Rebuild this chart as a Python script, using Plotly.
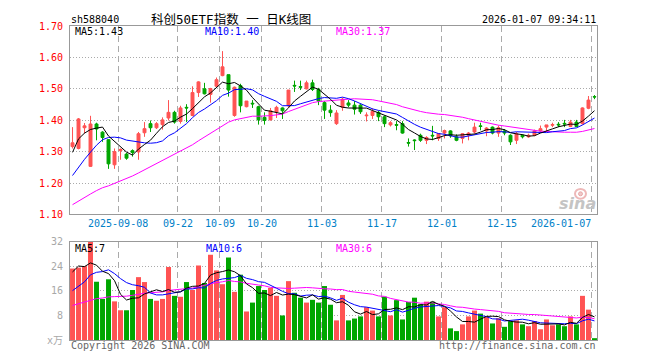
import numpy as np
import plotly.graph_objects as go

# ---------------- data ----------------
opens = [1.316,1.310,1.376,1.253,1.388,1.362,1.338,1.258,1.303,1.292,
         1.303,1.299,1.360,1.389,1.376,1.386,1.407,1.425,1.396,1.441,
         1.415,1.488,1.500,1.482,1.508,1.542,1.545,1.415,1.510,1.443,
         1.454,1.443,1.409,1.401,1.426,1.439,1.446,1.511,1.507,1.500,
         1.519,1.498,1.456,1.432,1.389,1.441,1.455,1.448,1.448,1.414,
         1.415,1.425,1.411,1.385,1.386,1.389,1.329,1.337,1.352,1.336,
         1.352,1.342,1.359,1.366,1.347,1.342,1.352,1.3625,1.382,1.366,
         1.378,1.359,1.366,1.352,1.336,1.352,1.347,1.352,1.366,1.378,
         1.384,1.387,1.390,1.380,1.394,1.389,1.438,1.475]
highs = [1.378,1.407,1.391,1.414,1.392,1.365,1.340,1.310,1.310,1.296,
         1.307,1.3625,1.394,1.399,1.394,1.409,1.464,1.430,1.446,1.451,
         1.508,1.524,1.519,1.503,1.536,1.620,1.545,1.507,1.516,1.461,
         1.464,1.446,1.425,1.439,1.446,1.441,1.496,1.526,1.526,1.526,
         1.529,1.503,1.461,1.448,1.432,1.472,1.464,1.461,1.451,1.425,
         1.438,1.430,1.415,1.397,1.397,1.397,1.342,1.339,1.357,1.349,
         1.382,1.359,1.370,1.368,1.355,1.359,1.3625,1.392,1.392,1.378,
         1.380,1.383,1.372,1.355,1.3625,1.355,1.357,1.370,1.383,1.385,
         1.392,1.394,1.401,1.401,1.401,1.441,1.477,1.480]
lows = [1.310,1.307,1.357,1.251,1.336,1.331,1.245,1.245,1.274,1.274,
        1.284,1.274,1.347,1.3625,1.372,1.370,1.399,1.389,1.389,1.394,
        1.4125,1.474,1.482,1.456,1.505,1.540,1.475,1.411,1.425,1.441,
        1.439,1.386,1.386,1.399,1.407,1.404,1.441,1.490,1.496,1.498,
        1.493,1.448,1.404,1.411,1.385,1.430,1.441,1.418,1.420,1.396,
        1.404,1.397,1.378,1.380,1.368,1.357,1.316,1.305,1.331,1.324,
        1.336,1.334,1.342,1.344,1.333,1.326,1.336,1.357,1.368,1.349,
        1.355,1.347,1.352,1.321,1.324,1.342,1.344,1.349,1.3625,1.3625,
        1.378,1.378,1.378,1.378,1.378,1.386,1.435,1.467]
closes = [1.328,1.404,1.382,1.388,1.372,1.345,1.261,1.300,1.307,1.279,
          1.297,1.357,1.373,1.376,1.389,1.401,1.425,1.394,1.439,1.439,
          1.488,1.522,1.484,1.501,1.529,1.570,1.496,1.505,1.446,1.461,
          1.452,1.401,1.399,1.430,1.441,1.430,1.496,1.509,1.505,1.519,
          1.498,1.461,1.432,1.424,1.423,1.467,1.448,1.435,1.427,1.416,
          1.428,1.411,1.389,1.392,1.384,1.359,1.327,1.335,1.336,1.345,
          1.350,1.357,1.367,1.350,1.336,1.357,1.359,1.378,1.380,1.375,
          1.359,1.376,1.359,1.331,1.357,1.347,1.352,1.366,1.373,1.385,
          1.386,1.385,1.388,1.394,1.380,1.439,1.464,1.474]
volumes = [23.3,23.6,24.1,32.0,19.0,13.4,19.8,12.6,9.7,9.7,
           16.3,20.5,18.9,13.4,12.8,13.4,23.8,14.4,14.1,18.9,
           16.3,24.3,18.6,27.8,22.7,18.2,26.9,15.7,21.3,9.3,
           12.2,17.6,16.3,17.0,14.4,8.0,19.2,15.4,13.8,12.2,
           13.1,12.2,17.6,11.5,6.4,14.7,6.4,7.0,7.7,10.7,
           9.6,7.7,14.1,8.0,13.0,6.7,12.4,13.8,11.7,12.5,
           12.5,7.7,10.7,3.8,2.9,5.1,7.7,9.6,8.6,7.5,
           5.4,7.1,4.3,6.1,6.4,5.1,4.5,6.2,3.5,6.7,
           4.8,5.1,4.5,7.7,5.1,14.4,9.9,0.6]
# sessions before the visible window (only feed the moving averages)
pre_closes = [1.04,1.05,1.06,1.05,1.07,1.08,1.07,1.06,1.05,1.06,
              1.07,1.08,1.09,1.10,1.11,1.12,1.12,1.13,1.14,1.14,
              1.14,1.13,1.16,1.15,1.17,1.19,1.29,1.33,1.35]
pre_volumes = [7,8,9,8,7,9,10,8,7,8,
               9,10,9,8,9,10,11,10,9,11,
               9,10,9,11,11,14,25,26,22.7]

tick_idx = [8, 18, 25, 32, 42, 52, 62, 72, 87]
tick_labels = ["2025-09-08", "09-22", "10-09", "10-20", "11-03",
               "11-17", "12-01", "12-15", "2026-01-07"]
price_ticks = [1.10, 1.20, 1.30, 1.40, 1.50, 1.60, 1.70]
vol_ticks = [0, 8, 16, 24, 32]
vol_tick_text = ["x万", "8", "16", "24", "32"]

# ---------------- helpers ----------------
RED = "#ff5353"
GREEN = "#00a600"
MONO = "DejaVu Sans Mono"
OFF = 8                      # page body margin of the html page
FW, FH = 660 - OFF, 360 - OFF
L, R, T, B = 70, 597, 20, 340   # plot box in window pixels


def px(xp):
    return (xp - L) / (R - L)


def py(yp):
    return (B - yp) / (B - T)


def ma(pre, cur, n):
    arr = np.array(pre + cur, dtype=float)
    out = np.convolve(arr, np.ones(n) / n, mode="valid")
    return out[-len(cur):]


n = len(closes)
x = list(range(n))
colors = [RED if c >= o else GREEN for o, c in zip(opens, closes)]

fig = go.Figure()
fig.add_trace(go.Candlestick(
    x=x, open=opens, high=highs, low=lows, close=closes,
    increasing=dict(line=dict(color=RED, width=1), fillcolor=RED),
    decreasing=dict(line=dict(color=GREEN, width=1), fillcolor=GREEN),
    whiskerwidth=0, hoverinfo="skip", xaxis="x", yaxis="y"))

for period, col in [(30, "#ff00ff"), (10, "#0000ff"), (5, "#000000")]:
    fig.add_trace(go.Scatter(x=x, y=ma(pre_closes, closes, period), mode="lines",
                             line=dict(color=col, width=1), hoverinfo="skip",
                             xaxis="x", yaxis="y"))

fig.add_trace(go.Bar(x=x, y=volumes, marker=dict(color=colors, line=dict(width=0)),
                     width=0.83, hoverinfo="skip", xaxis="x2", yaxis="y2"))
for period, col in [(30, "#ff00ff"), (10, "#0000ff"), (5, "#000000")]:
    fig.add_trace(go.Scatter(x=x, y=ma(pre_volumes, volumes, period), mode="lines",
                             line=dict(color=col, width=1), hoverinfo="skip",
                             xaxis="x2", yaxis="y2"))

grid_x = [i - 0.42 for i in tick_idx]
xcommon = dict(range=[-0.42, n - 1 + 0.42], tickvals=grid_x, showticklabels=False,
               showgrid=True, gridcolor="#aaaaaa", griddash="6px,4px", gridwidth=1,
               showline=True, mirror=True, linecolor="#999999", linewidth=1,
               zeroline=False, ticks="", fixedrange=True)

fig.update_layout(
    width=FW, height=FH,
    margin=dict(l=L - OFF, r=660 - R, t=T - OFF, b=360 - B),
    paper_bgcolor="white", plot_bgcolor="white",
    showlegend=False, boxgap=0.3,
    xaxis=dict(**xcommon, anchor="y", domain=[0, 1], rangeslider=dict(visible=False)),
    xaxis2=dict(**xcommon, anchor="y2", domain=[0, 1], matches="x"),
    yaxis=dict(domain=[py(212), 1], range=[1.10, 1.70], tickvals=price_ticks,
               ticktext=[f"{v:.2f}" for v in price_ticks],
               tickfont=dict(family=MONO, size=10, color="#ff0000"),
               showgrid=True, gridcolor="#aaaaaa", griddash="1px,2px",
               showline=True, mirror=True, linecolor="#999999", linewidth=1,
               zeroline=False, ticks="", ticklabelstandoff=4, fixedrange=True),
    yaxis2=dict(domain=[0, py(240)], range=[0, 32], tickvals=vol_ticks,
                ticktext=vol_tick_text,
                tickfont=dict(family=MONO + ", Noto Sans CJK SC", size=10, color="#a8a8a8"),
                showgrid=True, gridcolor="#aaaaaa", griddash="1px,2px",
                showline=True, mirror=True, linecolor="#999999", linewidth=1,
                zeroline=False, ticks="", ticklabelstandoff=4, fixedrange=True),
)

ann = []


def text(t, xp, yp, color="#000", size=10, anchor="left", family=MONO, **kw):
    ann.append(dict(text=t, x=px(xp), y=py(yp), xref="paper", yref="paper",
                    xanchor=anchor, yanchor="middle", showarrow=False,
                    font=dict(family=family, size=size, color=color), **kw))


text("sh588040", 69, 13)
text("科创50ETF指数 一 日K线图", 149, 13, size=12.5, family=MONO + ", Noto Sans CJK SC")
text("2026-01-07 09:34:11", 598, 13, anchor="right")

text("MA5:1.43", 73, 26)
text("MA10:1.40", 203, 26, color="#0000ff")
text("MA30:1.37", 334, 26, color="#ff00ff")

text("MA5:7", 73, 247)
text("MA10:6", 204, 247, color="#0000ff")
text("MA30:6", 334, 247, color="#ff00ff")

text("Copyright 2026 SINA.COM", 69, 346, color="#666666")
text("http://finance.sina.com.cn", 598, 346, color="#666666", anchor="right")
text("<b><i>sina</i></b>", 598, 201, color="#c4c4c4", size=16, anchor="right",
     family="DejaVu Sans")

for gx, lab in zip(grid_x, tick_labels):
    last = lab == tick_labels[-1]
    ann.append(dict(text=lab, x=gx + (0.1 if last else 0), y=py(221.5), xref="x", yref="paper",
                    xanchor="right" if last else "center", yanchor="middle",
                    showarrow=False, font=dict(family=MONO, size=10, color="#0080c8")))

fig.update_layout(annotations=ann)
# faint sina eye logo above the watermark text
fig.add_shape(type="circle", xref="paper", yref="paper",
              x0=px(575), x1=px(586), y0=py(196), y1=py(186),
              line=dict(color="#eeb8b8", width=2), fillcolor="rgba(0,0,0,0)")
fig.add_shape(type="circle", xref="paper", yref="paper",
              x0=px(578.5), x1=px(582.5), y0=py(193), y1=py(189),
              line=dict(color="#e8a8a8", width=1), fillcolor="#f0c8c8")
fig.write_html("out.html")
